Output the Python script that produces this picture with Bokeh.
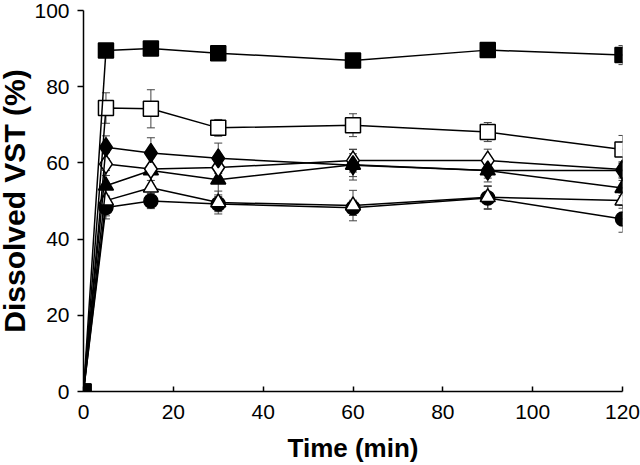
from bokeh.plotting import figure
from bokeh.models import ColumnDataSource, Whisker, TeeHead, FixedTicker, Range1d
from bokeh.embed import file_html
from bokeh.resources import INLINE

time_min = [0, 5, 15, 30, 60, 90, 120]

filled_square = [0, 89.5, 90.0, 88.8, 86.9, 89.6, 88.3]
filled_square_err = [0, 1.5, 1.8, 1.0, 1.0, 1.0, 2.5]

open_square = [0, 74.4, 74.2, 69.2, 69.9, 68.1, 63.5]
open_square_err = [0, 4.0, 5.0, 2.2, 3.0, 2.5, 3.7]

filled_diamond = [0, 64.1, 62.6, 61.2, 59.4, 58.0, 58.0]
filled_diamond_err = [0, 3.0, 4.0, 4.0, 3.0, 3.0, 2.0]

open_diamond = [0, 59.7, 58.4, 58.8, 60.6, 60.6, 58.3]
open_diamond_err = [0, 3.0, 3.0, 3.0, 3.0, 3.0, 2.0]

filled_triangle = [0, 54.0, 58.0, 55.6, 59.5, 58.0, 53.4]
filled_triangle_err = [0, 4.0, 5.0, 4.0, 4.0, 2.0, 2.0]

open_triangle = [0, 50.1, 53.5, 49.6, 48.8, 51.0, 50.1]
open_triangle_err = [0, 4.0, 4.0, 3.0, 4.0, 3.0, 2.0]

filled_circle = [0, 48.3, 50.0, 49.2, 48.2, 50.8, 45.3]
filled_circle_err = [0, 3.0, 2.0, 2.0, 2.0, 3.0, 3.5]

x_ticks = [0, 20, 40, 60, 80, 100, 120]
y_ticks = [0, 20, 40, 60, 80, 100]

series = [
    ("circle", filled_circle, filled_circle_err, "black", 14),
    ("triangle", open_triangle, open_triangle_err, "white", 15),
    ("triangle", filled_triangle, filled_triangle_err, "black", 15),
    ("diamond", open_diamond, open_diamond_err, "white", 19),
    ("diamond", filled_diamond, filled_diamond_err, "black", 19),
    ("square", open_square, open_square_err, "white", 15),
    ("square", filled_square, filled_square_err, "black", 15),
]

p = figure(width=645, height=465, output_backend="svg", toolbar_location=None,
           x_range=Range1d(0, 120), y_range=Range1d(0, 100),
           min_border_left=86, min_border_right=18, min_border_top=10,
           min_border_bottom=72)
p.styles = {"margin": "0px 0px 0px -5px"}

p.xgrid.visible = False
p.ygrid.visible = False
p.outline_line_color = None
p.background_fill_color = "white"
p.border_fill_color = "white"

for marker, vals, errs, fill, size in series:
    lower = [v - e for v, e in zip(vals, errs)]
    upper = [v + e for v, e in zip(vals, errs)]
    src = ColumnDataSource(dict(x=time_min, y=vals, lo=lower, hi=upper))
    w = Whisker(source=src, base="x", lower="lo", upper="hi",
                line_color="#444444", line_width=1,
                upper_head=TeeHead(size=8, line_color="#444444", line_width=1),
                lower_head=TeeHead(size=8, line_color="#444444", line_width=1))
    p.add_layout(w)
    p.line("x", "y", source=src, line_color="black", line_width=1.5)
    p.scatter("x", "y", source=src, marker=marker, size=size,
              fill_color=fill, line_color="black", line_width=1.5)

font = "Liberation Sans"
p.xaxis.ticker = FixedTicker(ticks=x_ticks)
p.yaxis.ticker = FixedTicker(ticks=y_ticks)
p.xaxis.minor_tick_line_color = None
p.yaxis.minor_tick_line_color = None

for ax in (p.xaxis, p.yaxis):
    ax.axis_line_color = "black"
    ax.axis_line_width = 1.5
    ax.major_tick_line_color = "black"
    ax.major_tick_line_width = 1.5
    ax.major_label_text_font = font
    ax.major_label_text_font_size = "21px"
    ax.major_label_text_color = "black"
    ax.axis_label_text_font = font
    ax.axis_label_text_font_style = "bold"
    ax.axis_label_text_color = "black"

p.xaxis.major_tick_in = 5
p.xaxis.major_tick_out = 0
p.xaxis.major_label_standoff = 13
p.xaxis.axis_label = "Time (min)"
p.xaxis.axis_label_text_font_size = "26px"
p.xaxis.axis_label_standoff = 11

p.yaxis.major_tick_in = 0
p.yaxis.major_tick_out = 6
p.yaxis.major_label_standoff = 8
p.yaxis.axis_label = "Dissolved VST (%)"
p.yaxis.axis_label_text_font_size = "30px"
p.yaxis.axis_label_standoff = 0

open("out.html", "w").write(file_html(p, INLINE))
